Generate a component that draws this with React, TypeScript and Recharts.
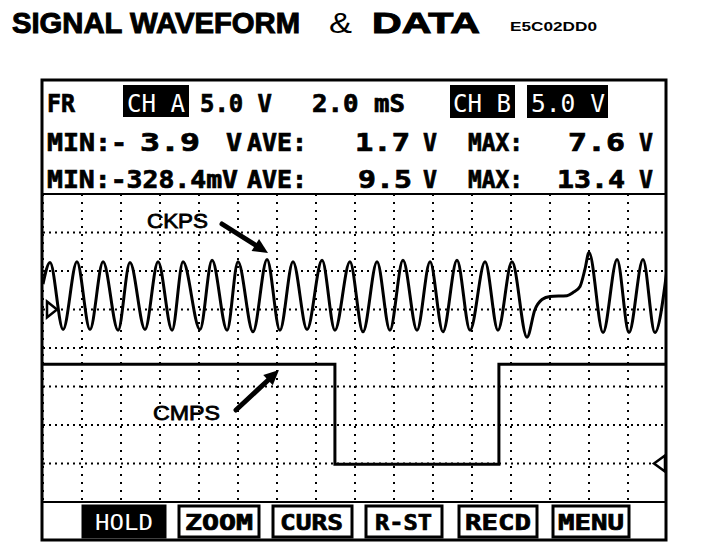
import React from "react";
import { LineChart, Line, XAxis, YAxis, CartesianGrid, ReferenceDot } from "recharts";

// time base 2.0 mS/div, 16 divisions across the screen
const timeTicks = [0, 2, 4, 6, 8, 10, 12, 14, 16, 18, 20, 22, 24, 26, 28, 30, 32];
// CH A 5.0 V/div, zero three divisions below the top
const chATicks = [-25, -20, -15, -10, -5, 0, 5, 10, 15];
// CH B 5.0 V/div, zero one division above the bottom
const chBTicks = [-5, 0, 5, 10, 15, 20, 25, 30, 35];

// CKPS (CH A), ms / V
const ckpsTime = [
  0, 0.36, 1.03, 1.74, 2.41, 3.08, 3.85, 4.46, 5.23, 5.9, 6.62, 7.18, 8.05, 8.67, 9.44, 10.0, 10.77,
  11.49, 12.15, 12.82, 13.54, 14.31, 14.97, 15.74, 16.41, 17.13, 17.79, 18.46, 19.18, 19.85, 20.51,
  21.23, 21.9, 22.67, 23.33, 24.05, 24.82, 25.23, 25.59, 26.0, 26.87, 27.18, 27.54, 27.79, 28.0,
  28.72, 29.44, 30.05, 30.77, 31.38, 32.0,
];
const ckpsVolt = [
  3.3, 6.1, -2.6, 6.2, -2.6, 6.2, -2.7, 6.1, -2.6, 6.2, -2.7, 6.2, -2.6, 6.4, -2.7, 6.2, -2.9,
  6.5, -2.7, 6.2, -2.6, 6.4, -2.7, 6.2, -2.9, 6.2, -2.7, 6.4, -2.7, 6.2, -2.9,
  6.4, -2.7, 6.2, -2.7, 6.2, -3.6, 0.0, 1.3, 1.7, 1.8, 2.2, 3.0, 5.2, 7.4,
  -3.0, 6.5, -3.0, 6.5, -3.0, 5.2,
];

// CMPS (CH B)
const cmpsTime = [0, 14.97, 14.97, 23.38, 23.38, 32];
const cmpsVolt = [12.9, 12.9, -0.1, -0.1, 12.9, 12.9];

const ckpsData = ckpsTime.map((t, i) => ({ t, v: ckpsVolt[i] }));
const cmpsData = cmpsTime.map((t, i) => ({ t, v: cmpsVolt[i] }));

const MONO = "'DejaVu Sans Mono', monospace";
const SANS = "'Liberation Sans', Arial, sans-serif";

const Txt = ({ x, y, w, size = 24, weight = 700, fill = "#000", family = MONO, thick = 0, children }: any) => (
  <text
    x={x}
    y={y}
    textLength={w}
    lengthAdjust="spacingAndGlyphs"
    fontSize={size}
    fontWeight={weight}
    fill={fill}
    stroke={thick ? fill : "none"}
    strokeWidth={thick}
    fontFamily={family}
  >
    {children}
  </text>
);

const Arrow = ({ x1, y1, x2, y2 }: any) => {
  const a = Math.atan2(y2 - y1, x2 - x1);
  const head = 15;
  const half = 7;
  const bx = x2 - head * Math.cos(a);
  const by = y2 - head * Math.sin(a);
  const px = -Math.sin(a) * half;
  const py = Math.cos(a) * half;
  return (
    <g>
      <line x1={x1} y1={y1} x2={bx} y2={by} stroke="#000" strokeWidth={5} strokeLinecap="round" />
      <polygon points={`${x2},${y2} ${bx + px},${by + py} ${bx - px},${by - py}`} fill="#000" />
    </g>
  );
};

// zero level marks at the screen edges
const ZeroMark = ({ cx, cy, dir }: any) => {
  const base = dir > 0 ? cx + 4 : cx - 2;
  const tip = dir > 0 ? cx + 14 : cx - 13;
  return (
    <polygon
      points={`${base},${cy - 8} ${tip},${cy} ${base},${cy + 8}`}
      fill="#fff"
      stroke="#000"
      strokeWidth={2.5}
    />
  );
};

const Button = ({ x, w, label, tx, tw, active }: any) => (
  <g>
    <rect
      x={x}
      y={506}
      width={w}
      height={31}
      fill={active ? "#000" : "#fff"}
      stroke="#000"
      strokeWidth={3}
    />
    <Txt
      x={tx}
      y={530}
      w={tw}
      size={21}
      weight={active ? 400 : 700}
      fill={active ? "#fff" : "#000"}
      thick={active ? 0 : 0.7}
    >
      {label}
    </Txt>
  </g>
);

export default function App() {
  return (
    <div style={{ position: "absolute", left: 0, top: 0, width: 704, height: 554, background: "#fff" }}>
      <div style={{ position: "absolute", left: 43, top: 194 }}>
        <LineChart width={624} height={308} margin={{ top: 0, right: 0, bottom: 0, left: 0 }}>
          <XAxis type="number" dataKey="t" domain={[0, 32]} ticks={timeTicks} hide allowDataOverflow />
          <YAxis yAxisId="a" type="number" domain={[-25, 15]} ticks={chATicks} hide allowDataOverflow />
          <YAxis yAxisId="b" type="number" domain={[-5, 35]} ticks={chBTicks} hide allowDataOverflow />
          <CartesianGrid
            yAxisId="a"
            vertical={false}
            stroke="#000"
            strokeWidth={2}
            strokeDasharray="2 4"
          />
          <CartesianGrid
            yAxisId="a"
            horizontal={false}
            stroke="#000"
            strokeWidth={2}
            strokeDasharray="2 6"
          />
          <Line
            data={cmpsData}
            dataKey="v"
            yAxisId="b"
            type="linear"
            stroke="#000"
            strokeWidth={3}
            dot={false}
            isAnimationActive={false}
          />
          <Line
            data={ckpsData}
            dataKey="v"
            yAxisId="a"
            type="monotone"
            stroke="#000"
            strokeWidth={3}
            dot={false}
            isAnimationActive={false}
          />
          <ReferenceDot x={0} y={0} yAxisId="a" shape={(p: any) => <ZeroMark {...p} dir={1} />} />
          <ReferenceDot x={32} y={0} yAxisId="b" shape={(p: any) => <ZeroMark {...p} dir={-1} />} />
        </LineChart>
      </div>

      <svg
        width={704}
        height={554}
        style={{ position: "absolute", left: 0, top: 0, pointerEvents: "none" }}
      >
        {/* title */}
        <Txt x={12} y={33} w={288} size={30} family={SANS} thick={1}>SIGNAL WAVEFORM</Txt>
        <Txt x={329} y={33} w={23} size={29} weight={400} family={SANS}>&amp;</Txt>
        <Txt x={372} y={33} w={108} size={30} family={SANS} thick={1}>DATA</Txt>
        <Txt x={510} y={31} w={87} size={12} family={SANS}>E5C02DD0</Txt>

        {/* scope frame */}
        <rect x={42} y={80} width={624} height={460} fill="none" stroke="#000" strokeWidth={3} />
        <line x1={42} y1={194} x2={666} y2={194} stroke="#000" strokeWidth={2} />
        <line x1={42} y1={502} x2={666} y2={502} stroke="#000" strokeWidth={2} />

        {/* header row 1 */}
        <Txt x={47} y={112} w={28} thick={0.7}>FR</Txt>
        <rect x={123} y={85} width={66} height={32} fill="#000" />
        <Txt x={127} y={112} w={58} weight={400} fill="#fff">CH A</Txt>
        <Txt x={200} y={112} w={72} thick={0.7}>5.0 V</Txt>
        <Txt x={312} y={112} w={93} thick={0.7}>2.0 mS</Txt>
        <rect x={450} y={85} width={65} height={33} fill="#000" />
        <Txt x={453} y={112} w={58} weight={400} fill="#fff">CH B</Txt>
        <rect x={527} y={85} width={81} height={33} fill="#000" />
        <Txt x={531} y={112} w={74} weight={400} fill="#fff">5.0 V</Txt>

        {/* header row 2 : CH A */}
        <Txt x={47} y={151} w={80} thick={0.7}>MIN:-</Txt>
        <Txt x={140} y={151} w={60} thick={0.7}>3.9</Txt>
        <Txt x={226} y={151} w={16} thick={0.7}>V</Txt>
        <Txt x={247} y={151} w={60} thick={0.7}>AVE:</Txt>
        <Txt x={355} y={151} w={55} thick={0.7}>1.7</Txt>
        <Txt x={423} y={151} w={14} thick={0.7}>V</Txt>
        <Txt x={468} y={151} w={55} thick={0.7}>MAX:</Txt>
        <Txt x={568} y={151} w={57} thick={0.7}>7.6</Txt>
        <Txt x={639} y={151} w={14} thick={0.7}>V</Txt>

        {/* header row 3 : CH B */}
        <Txt x={47} y={188} w={191} thick={0.7}>MIN:-328.4mV</Txt>
        <Txt x={247} y={188} w={60} thick={0.7}>AVE:</Txt>
        <Txt x={358} y={188} w={54} thick={0.7}>9.5</Txt>
        <Txt x={423} y={188} w={14} thick={0.7}>V</Txt>
        <Txt x={468} y={188} w={55} thick={0.7}>MAX:</Txt>
        <Txt x={557} y={188} w={68} thick={0.7}>13.4</Txt>
        <Txt x={639} y={188} w={14} thick={0.7}>V</Txt>

        {/* annotations */}
        <Txt x={147} y={228} w={61} size={21} weight={400} family={SANS} thick={0.8}>CKPS</Txt>
        <Arrow x1={222} y1={224} x2={268} y2={253} />
        <Txt x={153} y={420} w={67} size={21} weight={400} family={SANS} thick={0.8}>CMPS</Txt>
        <Arrow x1={236} y1={410} x2={279} y2={370} />

        {/* soft keys */}
        <Button x={83} w={82} label="HOLD" tx={95} tw={58} active />
        <Button x={179} w={80} label="ZOOM" tx={185} tw={68} />
        <Button x={273} w={79} label="CURS" tx={280} tw={63} />
        <Button x={366} w={76} label="R-ST" tx={375} tw={57} />
        <Button x={459} w={78} label="RECD" tx={465} tw={66} />
        <Button x={553} w={76} label="MENU" tx={558} tw={66} />
      </svg>
    </div>
  );
}
